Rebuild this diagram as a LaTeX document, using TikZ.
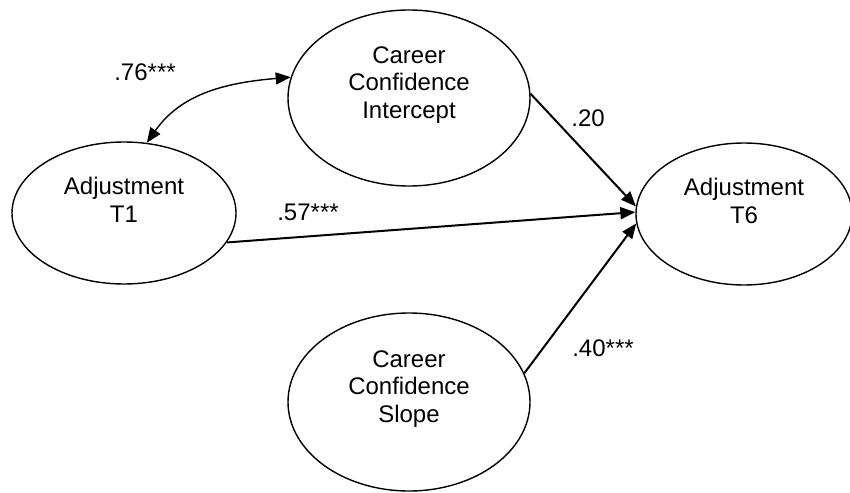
\documentclass[tikz,border=0pt]{standalone}
\usepackage{fontspec}
\setmainfont{Liberation Sans}
\usetikzlibrary{shapes.geometric,arrows.meta}

\begin{document}
\begin{tikzpicture}[x=1pt,y=1pt,
  latent/.style={draw, line width=1.4pt, ellipse, inner sep=0pt},
  vartext/.style={align=center, font=\fontsize{24}{27.5}\selectfont, inner sep=0pt},
  coef/.style={font=\fontsize{24}{27.5}\selectfont, inner sep=0pt},
  path/.style={line width=2pt, -{Triangle[length=15pt,width=12pt]}},
  covpath/.style={line width=1.4pt, {Triangle[length=15pt,width=12pt]}-{Triangle[length=15pt,width=12pt]}}
]
\useasboundingbox (0,0) rectangle (850,-492);

% latent variables
\node[latent, minimum width=224pt, minimum height=142pt] (t1)  at (124,-213) {};
\node[latent, minimum width=242pt, minimum height=176pt] (int) at (409,-98) {};
\node[latent, minimum width=216pt, minimum height=142pt] (t6)  at (744,-214) {};
\node[latent, minimum width=242pt, minimum height=178pt] (slp) at (409,-402) {};

% their labels, set a little above centre
\node[vartext] (t1txt)  at ([yshift=13pt]t1.center)  {Adjustment\\T1};
\node[vartext] (inttxt) at ([yshift=13pt]int.center) {Career\\Confidence\\Intercept};
\node[vartext] (t6txt)  at ([yshift=13pt]t6.center)  {Adjustment\\T6};
\node[vartext] (slptxt) at ([yshift=13pt]slp.center) {Career\\Confidence\\Slope};

% paths
\draw[covpath] (t1.72) to[out=55, in=185] (int.170);
\draw[path] (int.2) -- (t6.176);
\draw[path] (t1.-16) -- (t6.179);
\draw[path] (slp.14) -- (t6.185);

% coefficients
\node[coef] (c76) at (145,-72)  {.76***};
\node[coef] (c20) at (588,-118) {.20};
\node[coef] (c57) at (308,-212) {.57***};
\node[coef] (c40) at (603,-348) {.40***};
\end{tikzpicture}
\end{document}
